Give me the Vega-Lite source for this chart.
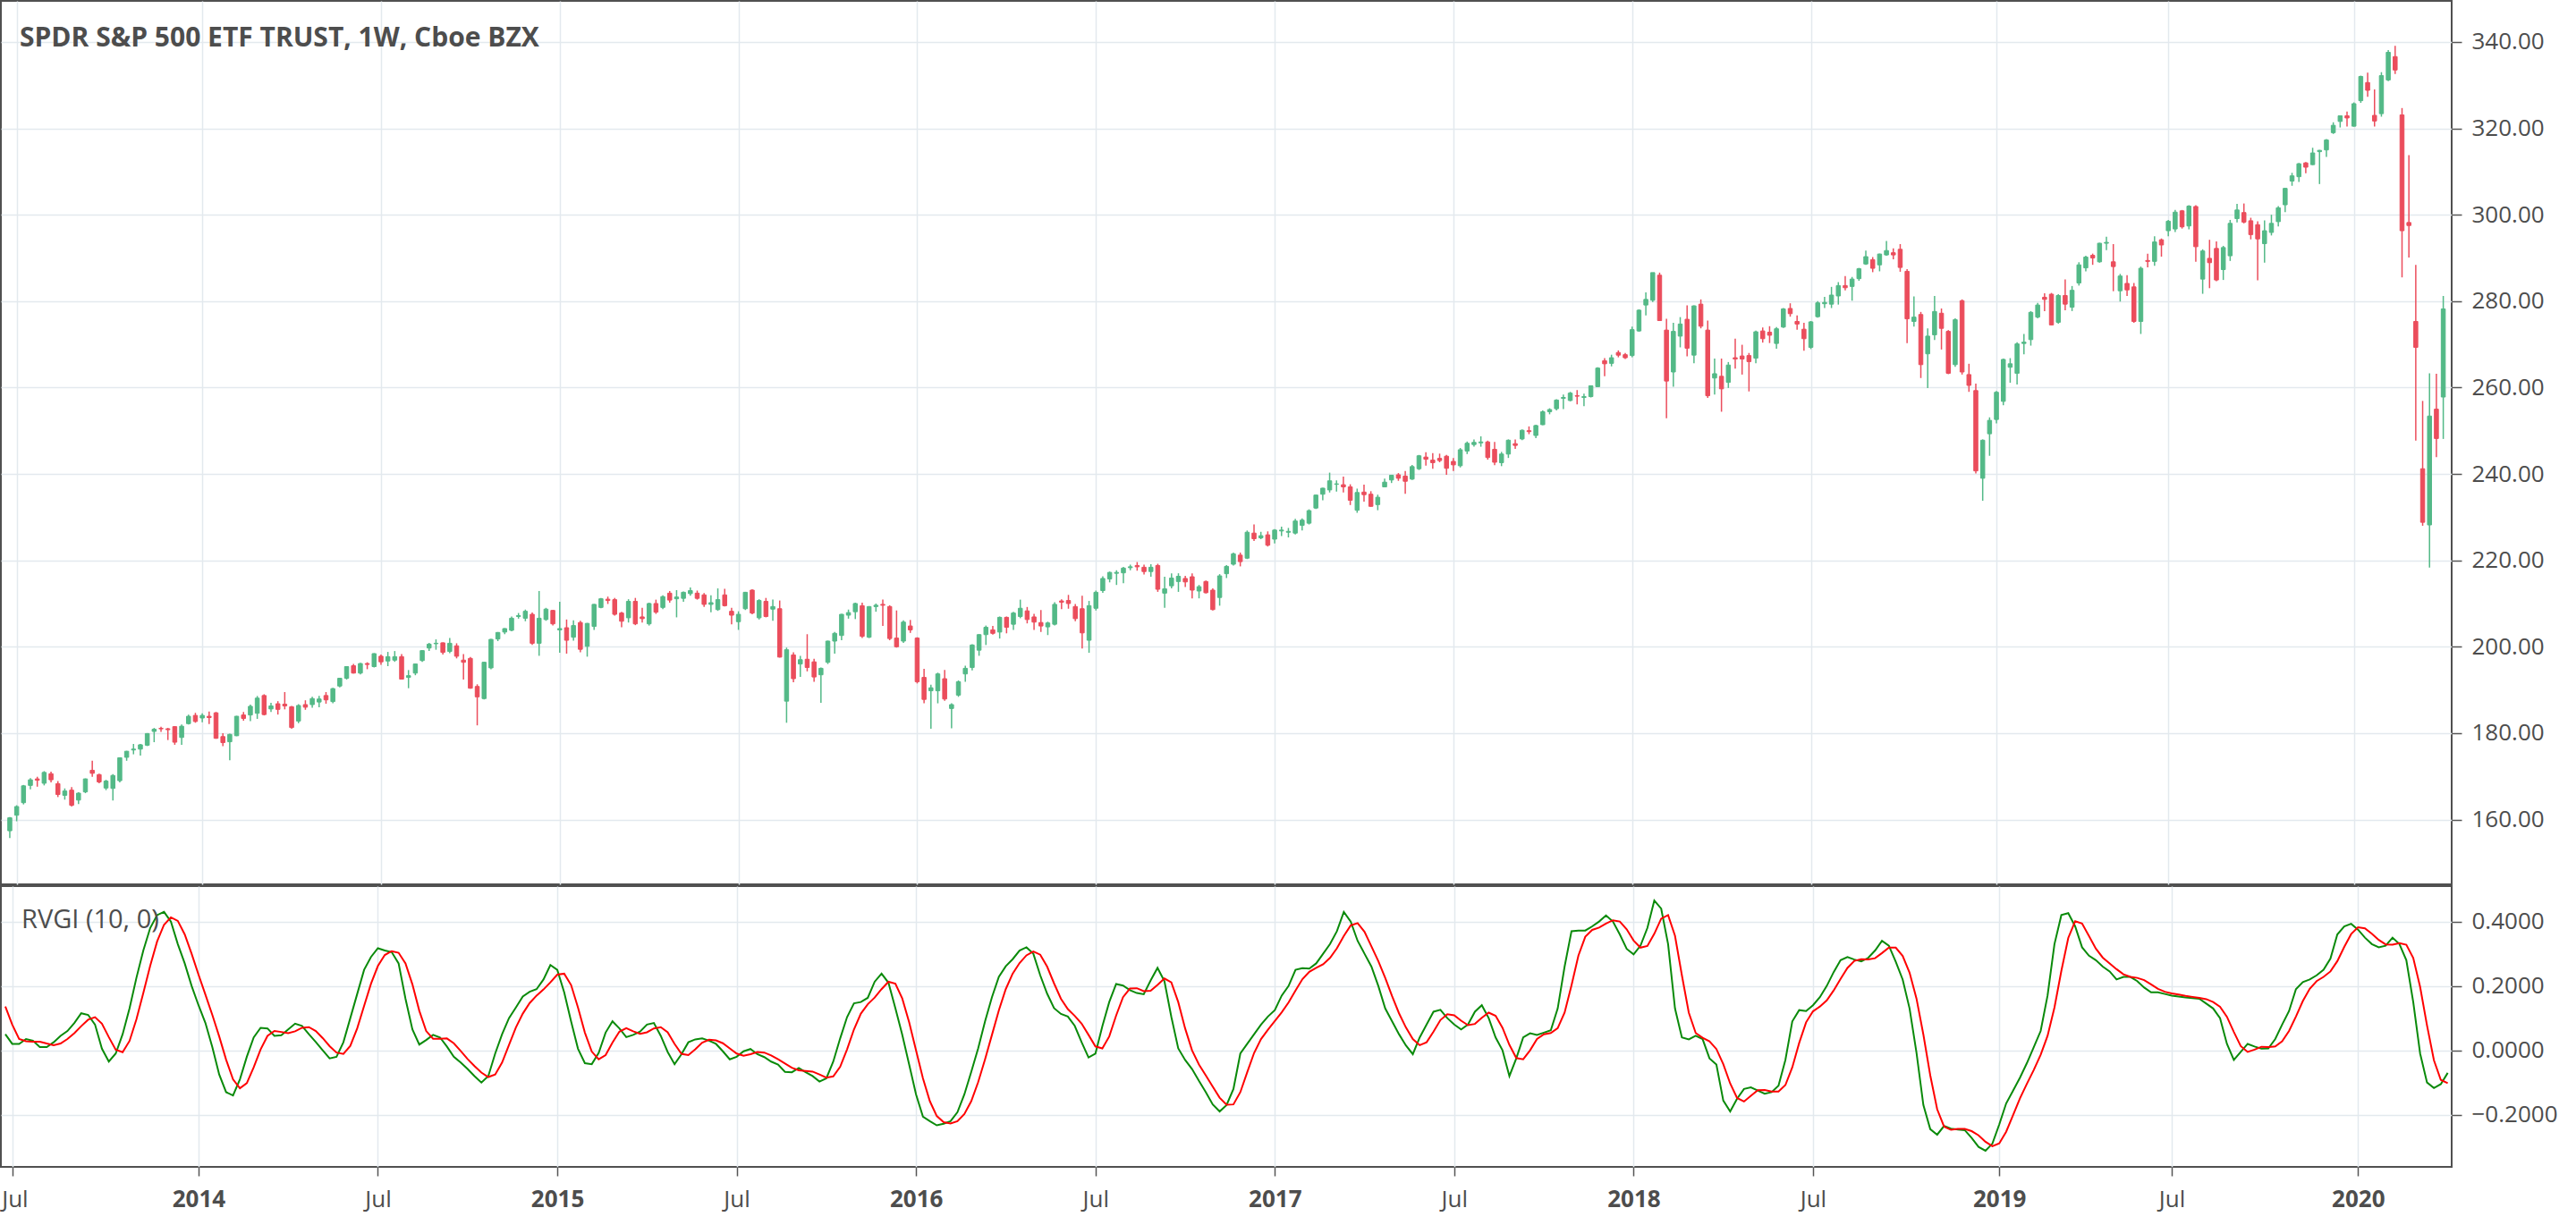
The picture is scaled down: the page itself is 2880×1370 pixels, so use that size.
{
"$schema": "https://vega.github.io/schema/vega-lite/v6.json",
"padding": {"left": 0, "top": 0, "right": 0, "bottom": 14},
"spacing": 0,
"background": "#ffffff",
"config": {
  "view": {"stroke": "#505050", "strokeWidth": 2},
  "font": "Open Sans",
  "axis": {"labelFont": "Open Sans", "labelFontSize": 26, "labelColor": "#4d4d4d", "gridColor": "#e3e9ee", "gridWidth": 1.5, "tickColor": "#555555", "tickWidth": 1.5, "domain": false},
  "title": {"font": "Open Sans", "color": "#4d4d4d", "anchor": "start", "frame": "group"}
},
"datasets": {"w": [
{"d":"2013-06-24","o":157.4,"h":160.6,"l":155.7,"c":160.4,"g":0.05,"r":0.136},
{"d":"2013-07-01","o":161.0,"h":163.3,"l":159.6,"c":163.0,"g":0.02,"r":0.08},
{"d":"2013-07-08","o":163.9,"h":168.0,"l":163.5,"c":167.8,"g":0.02,"r":0.035},
{"d":"2013-07-15","o":167.9,"h":169.6,"l":167.0,"c":169.2,"g":0.035,"r":0.028},
{"d":"2013-07-22","o":169.4,"h":169.9,"l":167.6,"c":169.1,"g":0.03,"r":0.027},
{"d":"2013-07-29","o":168.4,"h":171.2,"l":167.9,"c":170.9,"g":0.01,"r":0.027},
{"d":"2013-08-05","o":170.6,"h":171.1,"l":168.6,"c":169.2,"g":0.01,"r":0.021},
{"d":"2013-08-12","o":168.3,"h":168.9,"l":165.2,"c":165.8,"g":0.025,"r":0.016},
{"d":"2013-08-19","o":165.6,"h":167.2,"l":164.6,"c":166.6,"g":0.045,"r":0.021},
{"d":"2013-08-26","o":166.8,"h":167.5,"l":163.0,"c":163.3,"g":0.06,"r":0.035},
{"d":"2013-09-02","o":164.5,"h":166.3,"l":163.6,"c":166.1,"g":0.085,"r":0.053},
{"d":"2013-09-09","o":166.4,"h":169.5,"l":166.1,"c":169.4,"g":0.115,"r":0.075},
{"d":"2013-09-16","o":171.4,"h":173.6,"l":169.9,"c":170.7,"g":0.11,"r":0.095},
{"d":"2013-09-23","o":170.4,"h":170.6,"l":168.4,"c":168.7,"g":0.08,"r":0.103},
{"d":"2013-09-30","o":167.3,"h":169.2,"l":166.8,"c":168.9,"g":0.005,"r":0.083},
{"d":"2013-10-07","o":167.2,"h":170.5,"l":164.4,"c":170.2,"g":-0.035,"r":0.041},
{"d":"2013-10-14","o":169.0,"h":174.4,"l":168.6,"c":174.3,"g":-0.01,"r":0.002},
{"d":"2013-10-21","o":174.4,"h":175.9,"l":173.6,"c":175.8,"g":0.05,"r":-0.006},
{"d":"2013-10-28","o":176.1,"h":177.5,"l":175.1,"c":176.3,"g":0.13,"r":0.029},
{"d":"2013-11-04","o":176.3,"h":177.5,"l":174.8,"c":177.3,"g":0.225,"r":0.096},
{"d":"2013-11-11","o":177.2,"h":180.0,"l":177.0,"c":179.9,"g":0.31,"r":0.178},
{"d":"2013-11-18","o":180.4,"h":181.2,"l":177.9,"c":180.9,"g":0.38,"r":0.263},
{"d":"2013-11-25","o":181.1,"h":181.5,"l":180.3,"c":181.0,"g":0.42,"r":0.338},
{"d":"2013-12-02","o":181.0,"h":181.2,"l":178.4,"c":180.8,"g":0.43,"r":0.39},
{"d":"2013-12-09","o":181.5,"h":181.6,"l":177.3,"c":177.9,"g":0.40,"r":0.413},
{"d":"2013-12-16","o":179.0,"h":182.0,"l":177.3,"c":181.6,"g":0.33,"r":0.402},
{"d":"2013-12-23","o":182.2,"h":184.3,"l":182.0,"c":183.9,"g":0.27,"r":0.36},
{"d":"2013-12-30","o":184.1,"h":184.7,"l":182.4,"c":182.7,"g":0.20,"r":0.30},
{"d":"2014-01-06","o":183.5,"h":184.6,"l":182.5,"c":184.1,"g":0.14,"r":0.235},
{"d":"2014-01-13","o":183.9,"h":185.0,"l":182.1,"c":183.6,"g":0.085,"r":0.173},
{"d":"2014-01-20","o":184.7,"h":184.9,"l":178.7,"c":178.8,"g":0.01,"r":0.11},
{"d":"2014-01-27","o":179.2,"h":180.0,"l":177.0,"c":177.8,"g":-0.075,"r":0.043},
{"d":"2014-02-03","o":178.0,"h":179.9,"l":173.7,"c":179.7,"g":-0.13,"r":-0.029},
{"d":"2014-02-10","o":179.4,"h":184.0,"l":179.3,"c":183.9,"g":-0.14,"r":-0.09},
{"d":"2014-02-17","o":184.2,"h":184.9,"l":182.9,"c":183.4,"g":-0.09,"r":-0.118},
{"d":"2014-02-24","o":184.2,"h":186.6,"l":182.8,"c":186.2,"g":-0.02,"r":-0.102},
{"d":"2014-03-03","o":184.6,"h":188.6,"l":183.3,"c":188.1,"g":0.04,"r":-0.053},
{"d":"2014-03-10","o":188.7,"h":189.0,"l":184.1,"c":184.3,"g":0.07,"r":0.003},
{"d":"2014-03-17","o":185.6,"h":187.0,"l":184.9,"c":186.3,"g":0.068,"r":0.045},
{"d":"2014-03-24","o":186.8,"h":187.4,"l":184.3,"c":185.5,"g":0.045,"r":0.06},
{"d":"2014-03-31","o":186.7,"h":189.5,"l":185.5,"c":186.3,"g":0.047,"r":0.057},
{"d":"2014-04-07","o":186.1,"h":186.3,"l":181.0,"c":181.3,"g":0.065,"r":0.053},
{"d":"2014-04-14","o":182.8,"h":186.7,"l":182.3,"c":186.4,"g":0.083,"r":0.059},
{"d":"2014-04-21","o":186.6,"h":187.6,"l":185.4,"c":186.0,"g":0.076,"r":0.07},
{"d":"2014-04-28","o":186.6,"h":188.4,"l":185.9,"c":188.0,"g":0.05,"r":0.072},
{"d":"2014-05-05","o":187.2,"h":188.6,"l":186.0,"c":187.9,"g":0.026,"r":0.06},
{"d":"2014-05-12","o":188.7,"h":189.5,"l":186.8,"c":187.7,"g":0.0,"r":0.038},
{"d":"2014-05-19","o":187.3,"h":190.5,"l":186.9,"c":190.3,"g":-0.025,"r":0.013},
{"d":"2014-05-26","o":190.9,"h":192.8,"l":190.6,"c":192.7,"g":-0.02,"r":-0.007},
{"d":"2014-06-02","o":192.7,"h":195.5,"l":192.4,"c":195.4,"g":0.025,"r":-0.011},
{"d":"2014-06-09","o":195.6,"h":196.0,"l":193.8,"c":193.9,"g":0.10,"r":0.014},
{"d":"2014-06-16","o":193.9,"h":196.3,"l":193.6,"c":196.1,"g":0.175,"r":0.068},
{"d":"2014-06-23","o":196.1,"h":196.4,"l":194.8,"c":195.9,"g":0.25,"r":0.138},
{"d":"2014-06-30","o":195.4,"h":198.5,"l":195.2,"c":198.4,"g":0.29,"r":0.207},
{"d":"2014-07-07","o":197.8,"h":198.2,"l":195.8,"c":196.5,"g":0.317,"r":0.262},
{"d":"2014-07-14","o":196.7,"h":198.8,"l":195.5,"c":197.7,"g":0.31,"r":0.296},
{"d":"2014-07-21","o":196.9,"h":199.0,"l":196.5,"c":197.7,"g":0.305,"r":0.308},
{"d":"2014-07-28","o":197.7,"h":198.3,"l":192.4,"c":192.5,"g":0.27,"r":0.303},
{"d":"2014-08-04","o":192.9,"h":194.6,"l":190.4,"c":193.3,"g":0.16,"r":0.27},
{"d":"2014-08-11","o":193.9,"h":196.1,"l":193.4,"c":196.0,"g":0.065,"r":0.205},
{"d":"2014-08-18","o":196.8,"h":199.2,"l":196.5,"c":199.1,"g":0.018,"r":0.123},
{"d":"2014-08-25","o":199.7,"h":200.9,"l":199.0,"c":200.6,"g":0.032,"r":0.06},
{"d":"2014-09-01","o":200.7,"h":201.7,"l":199.3,"c":200.8,"g":0.048,"r":0.036},
{"d":"2014-09-08","o":200.9,"h":201.0,"l":198.2,"c":198.7,"g":0.04,"r":0.036},
{"d":"2014-09-15","o":198.9,"h":202.0,"l":198.5,"c":200.8,"g":0.012,"r":0.037},
{"d":"2014-09-22","o":200.2,"h":200.8,"l":197.3,"c":197.8,"g":-0.02,"r":0.022},
{"d":"2014-09-29","o":196.9,"h":198.3,"l":192.4,"c":196.4,"g":-0.038,"r":-0.002},
{"d":"2014-10-06","o":197.3,"h":197.6,"l":190.3,"c":190.4,"g":-0.058,"r":-0.027},
{"d":"2014-10-13","o":190.8,"h":191.3,"l":181.8,"c":188.4,"g":-0.08,"r":-0.049},
{"d":"2014-10-20","o":188.0,"h":196.5,"l":187.8,"c":196.4,"g":-0.10,"r":-0.069},
{"d":"2014-10-27","o":195.1,"h":201.8,"l":194.8,"c":201.7,"g":-0.08,"r":-0.083},
{"d":"2014-11-03","o":201.8,"h":203.4,"l":201.3,"c":203.3,"g":-0.01,"r":-0.075},
{"d":"2014-11-10","o":203.4,"h":204.3,"l":202.9,"c":204.2,"g":0.05,"r":-0.038},
{"d":"2014-11-17","o":203.8,"h":207.0,"l":203.6,"c":206.6,"g":0.10,"r":0.017},
{"d":"2014-11-24","o":207.0,"h":207.8,"l":206.5,"c":207.2,"g":0.133,"r":0.071},
{"d":"2014-12-01","o":206.6,"h":208.6,"l":205.9,"c":208.2,"g":0.167,"r":0.114},
{"d":"2014-12-08","o":207.5,"h":207.9,"l":200.4,"c":200.8,"g":0.182,"r":0.147},
{"d":"2014-12-15","o":200.8,"h":212.9,"l":197.9,"c":206.6,"g":0.19,"r":0.17},
{"d":"2014-12-22","o":206.3,"h":209.0,"l":206.0,"c":208.7,"g":0.22,"r":0.189},
{"d":"2014-12-29","o":208.4,"h":208.5,"l":204.9,"c":205.3,"g":0.265,"r":0.211},
{"d":"2015-01-05","o":203.9,"h":210.4,"l":198.6,"c":204.2,"g":0.25,"r":0.235},
{"d":"2015-01-12","o":204.4,"h":206.3,"l":198.4,"c":201.5,"g":0.18,"r":0.238},
{"d":"2015-01-19","o":202.2,"h":206.1,"l":201.4,"c":204.9,"g":0.09,"r":0.203},
{"d":"2015-01-26","o":205.6,"h":206.0,"l":198.7,"c":199.4,"g":0.005,"r":0.133},
{"d":"2015-02-02","o":200.1,"h":205.5,"l":197.7,"c":205.4,"g":-0.04,"r":0.055},
{"d":"2015-02-09","o":204.7,"h":209.9,"l":203.9,"c":209.8,"g":-0.043,"r":-0.004},
{"d":"2015-02-16","o":209.1,"h":211.3,"l":208.9,"c":211.1,"g":-0.008,"r":-0.028},
{"d":"2015-02-23","o":211.0,"h":211.6,"l":209.9,"c":210.7,"g":0.055,"r":-0.015},
{"d":"2015-03-02","o":210.9,"h":211.3,"l":207.2,"c":207.5,"g":0.09,"r":0.024},
{"d":"2015-03-09","o":207.8,"h":208.1,"l":204.5,"c":205.9,"g":0.068,"r":0.058},
{"d":"2015-03-16","o":206.7,"h":211.0,"l":205.6,"c":210.5,"g":0.041,"r":0.069},
{"d":"2015-03-23","o":210.5,"h":211.3,"l":205.0,"c":205.3,"g":0.048,"r":0.059},
{"d":"2015-03-30","o":206.9,"h":209.0,"l":205.6,"c":206.5,"g":0.058,"r":0.051},
{"d":"2015-04-06","o":205.3,"h":210.2,"l":204.9,"c":210.0,"g":0.08,"r":0.056},
{"d":"2015-04-13","o":210.0,"h":210.9,"l":207.6,"c":208.0,"g":0.085,"r":0.068},
{"d":"2015-04-20","o":209.1,"h":211.9,"l":208.7,"c":211.6,"g":0.045,"r":0.072},
{"d":"2015-04-27","o":212.4,"h":212.9,"l":210.2,"c":210.8,"g":-0.005,"r":0.056},
{"d":"2015-05-04","o":211.1,"h":213.1,"l":206.8,"c":211.5,"g":-0.043,"r":0.02},
{"d":"2015-05-11","o":211.2,"h":212.8,"l":210.4,"c":212.6,"g":-0.012,"r":-0.011},
{"d":"2015-05-18","o":212.3,"h":213.7,"l":211.8,"c":213.0,"g":0.025,"r":-0.015},
{"d":"2015-05-25","o":212.4,"h":213.0,"l":210.9,"c":211.2,"g":0.034,"r":0.003},
{"d":"2015-06-01","o":212.0,"h":212.4,"l":209.2,"c":209.8,"g":0.037,"r":0.024},
{"d":"2015-06-08","o":209.8,"h":211.9,"l":208.0,"c":210.2,"g":0.03,"r":0.033},
{"d":"2015-06-15","o":208.6,"h":213.5,"l":208.3,"c":210.9,"g":0.02,"r":0.031},
{"d":"2015-06-22","o":212.0,"h":213.4,"l":209.3,"c":209.5,"g":-0.003,"r":0.022},
{"d":"2015-06-29","o":208.2,"h":209.0,"l":205.2,"c":207.3,"g":-0.028,"r":0.006},
{"d":"2015-07-06","o":205.8,"h":208.2,"l":203.9,"c":207.5,"g":-0.02,"r":-0.01},
{"d":"2015-07-13","o":208.8,"h":212.7,"l":208.5,"c":212.6,"g":-0.003,"r":-0.017},
{"d":"2015-07-20","o":213.1,"h":213.3,"l":207.5,"c":207.8,"g":0.004,"r":-0.012},
{"d":"2015-07-27","o":206.7,"h":211.0,"l":206.3,"c":210.7,"g":-0.012,"r":-0.005},
{"d":"2015-08-03","o":210.5,"h":211.3,"l":206.8,"c":207.0,"g":-0.021,"r":-0.007},
{"d":"2015-08-10","o":208.7,"h":210.9,"l":206.0,"c":209.3,"g":-0.035,"r":-0.016},
{"d":"2015-08-17","o":208.8,"h":210.7,"l":197.5,"c":197.6,"g":-0.044,"r":-0.028},
{"d":"2015-08-24","o":187.4,"h":199.8,"l":182.4,"c":199.3,"g":-0.067,"r":-0.041},
{"d":"2015-08-31","o":198.1,"h":198.7,"l":191.8,"c":192.6,"g":-0.068,"r":-0.054},
{"d":"2015-09-07","o":196.0,"h":197.9,"l":193.0,"c":197.0,"g":-0.055,"r":-0.062},
{"d":"2015-09-14","o":197.1,"h":202.9,"l":194.3,"c":195.2,"g":-0.068,"r":-0.064},
{"d":"2015-09-21","o":196.5,"h":197.2,"l":191.9,"c":193.0,"g":-0.08,"r":-0.066},
{"d":"2015-09-28","o":193.5,"h":195.2,"l":187.0,"c":195.0,"g":-0.097,"r":-0.075},
{"d":"2015-10-05","o":196.4,"h":201.4,"l":196.0,"c":201.3,"g":-0.087,"r":-0.085},
{"d":"2015-10-12","o":201.3,"h":203.4,"l":198.4,"c":203.1,"g":-0.035,"r":-0.081},
{"d":"2015-10-19","o":202.6,"h":207.6,"l":201.5,"c":207.5,"g":0.037,"r":-0.051},
{"d":"2015-10-26","o":207.3,"h":208.6,"l":206.5,"c":207.9,"g":0.103,"r":0.003},
{"d":"2015-11-02","o":208.1,"h":210.2,"l":206.4,"c":210.0,"g":0.146,"r":0.065},
{"d":"2015-11-09","o":209.5,"h":210.2,"l":202.0,"c":202.4,"g":0.15,"r":0.114},
{"d":"2015-11-16","o":202.2,"h":209.4,"l":202.0,"c":209.3,"g":0.163,"r":0.143},
{"d":"2015-11-23","o":209.3,"h":210.0,"l":208.1,"c":209.6,"g":0.213,"r":0.164},
{"d":"2015-11-30","o":209.8,"h":210.9,"l":204.8,"c":209.6,"g":0.238,"r":0.19},
{"d":"2015-12-07","o":209.3,"h":209.6,"l":201.5,"c":201.9,"g":0.21,"r":0.213},
{"d":"2015-12-14","o":202.0,"h":208.4,"l":199.8,"c":200.0,"g":0.131,"r":0.207},
{"d":"2015-12-21","o":201.3,"h":206.1,"l":200.9,"c":205.7,"g":0.048,"r":0.161},
{"d":"2015-12-28","o":204.8,"h":206.2,"l":203.2,"c":203.9,"g":-0.044,"r":0.087},
{"d":"2016-01-04","o":202.0,"h":202.2,"l":191.5,"c":191.9,"g":-0.137,"r":0.0},
{"d":"2016-01-11","o":192.9,"h":194.9,"l":186.9,"c":187.8,"g":-0.206,"r":-0.087},
{"d":"2016-01-18","o":189.8,"h":191.2,"l":181.0,"c":190.5,"g":-0.22,"r":-0.158},
{"d":"2016-01-25","o":189.8,"h":194.0,"l":186.9,"c":193.7,"g":-0.233,"r":-0.204},
{"d":"2016-02-01","o":192.6,"h":194.6,"l":187.5,"c":187.9,"g":-0.228,"r":-0.223},
{"d":"2016-02-08","o":185.7,"h":186.9,"l":181.1,"c":186.6,"g":-0.22,"r":-0.227},
{"d":"2016-02-15","o":188.8,"h":192.2,"l":188.4,"c":191.9,"g":-0.192,"r":-0.22},
{"d":"2016-02-22","o":193.7,"h":195.6,"l":191.9,"c":195.0,"g":-0.137,"r":-0.198},
{"d":"2016-02-29","o":195.2,"h":200.6,"l":194.5,"c":200.4,"g":-0.067,"r":-0.158},
{"d":"2016-03-07","o":199.2,"h":202.9,"l":197.9,"c":202.8,"g":0.006,"r":-0.099},
{"d":"2016-03-14","o":202.8,"h":204.9,"l":200.4,"c":204.5,"g":0.09,"r":-0.028},
{"d":"2016-03-21","o":203.9,"h":204.8,"l":202.8,"c":203.1,"g":0.165,"r":0.048},
{"d":"2016-03-28","o":203.4,"h":207.0,"l":201.9,"c":206.8,"g":0.228,"r":0.124},
{"d":"2016-04-04","o":206.8,"h":207.0,"l":203.1,"c":204.5,"g":0.261,"r":0.19},
{"d":"2016-04-11","o":205.2,"h":208.1,"l":203.9,"c":207.8,"g":0.283,"r":0.238},
{"d":"2016-04-18","o":207.0,"h":210.9,"l":206.6,"c":208.9,"g":0.31,"r":0.271},
{"d":"2016-04-25","o":208.3,"h":209.2,"l":205.4,"c":206.3,"g":0.32,"r":0.295},
{"d":"2016-05-02","o":206.9,"h":207.6,"l":203.9,"c":205.7,"g":0.30,"r":0.307},
{"d":"2016-05-09","o":205.6,"h":208.5,"l":203.4,"c":204.8,"g":0.233,"r":0.297},
{"d":"2016-05-16","o":204.6,"h":205.8,"l":202.7,"c":205.5,"g":0.176,"r":0.26},
{"d":"2016-05-23","o":205.2,"h":210.3,"l":204.9,"c":209.8,"g":0.131,"r":0.208},
{"d":"2016-05-30","o":210.6,"h":211.0,"l":208.7,"c":210.3,"g":0.113,"r":0.16},
{"d":"2016-06-06","o":210.7,"h":212.0,"l":208.8,"c":210.0,"g":0.105,"r":0.128},
{"d":"2016-06-13","o":209.3,"h":209.9,"l":205.9,"c":206.5,"g":0.076,"r":0.107},
{"d":"2016-06-20","o":208.8,"h":211.8,"l":199.6,"c":203.2,"g":0.025,"r":0.083},
{"d":"2016-06-27","o":201.5,"h":210.6,"l":198.6,"c":209.5,"g":-0.022,"r":0.048},
{"d":"2016-07-04","o":208.9,"h":213.0,"l":208.4,"c":212.6,"g":-0.01,"r":0.012},
{"d":"2016-07-11","o":213.0,"h":216.3,"l":212.5,"c":215.8,"g":0.075,"r":0.006},
{"d":"2016-07-18","o":215.7,"h":217.4,"l":214.9,"c":217.2,"g":0.15,"r":0.043},
{"d":"2016-07-25","o":217.0,"h":217.7,"l":214.3,"c":217.2,"g":0.206,"r":0.108},
{"d":"2016-08-01","o":217.1,"h":218.5,"l":214.7,"c":218.2,"g":0.201,"r":0.165},
{"d":"2016-08-08","o":218.3,"h":219.0,"l":217.7,"c":218.5,"g":0.187,"r":0.192},
{"d":"2016-08-15","o":218.8,"h":219.6,"l":217.6,"c":218.5,"g":0.178,"r":0.193},
{"d":"2016-08-22","o":218.4,"h":219.0,"l":216.7,"c":217.4,"g":0.174,"r":0.184},
{"d":"2016-08-29","o":217.4,"h":219.1,"l":216.2,"c":218.4,"g":0.217,"r":0.185},
{"d":"2016-09-05","o":218.8,"h":219.2,"l":212.7,"c":213.3,"g":0.256,"r":0.203},
{"d":"2016-09-12","o":212.4,"h":216.2,"l":209.0,"c":213.4,"g":0.215,"r":0.223},
{"d":"2016-09-19","o":214.1,"h":217.0,"l":213.5,"c":215.9,"g":0.104,"r":0.211},
{"d":"2016-09-26","o":215.1,"h":217.0,"l":212.7,"c":216.3,"g":0.006,"r":0.15},
{"d":"2016-10-03","o":215.8,"h":216.4,"l":213.8,"c":215.0,"g":-0.03,"r":0.068},
{"d":"2016-10-10","o":216.2,"h":217.0,"l":211.2,"c":213.1,"g":-0.058,"r":0.0},
{"d":"2016-10-17","o":212.9,"h":214.3,"l":211.2,"c":213.9,"g":-0.095,"r":-0.044},
{"d":"2016-10-24","o":215.1,"h":215.3,"l":212.3,"c":212.5,"g":-0.13,"r":-0.078},
{"d":"2016-10-31","o":213.1,"h":213.5,"l":208.4,"c":208.6,"g":-0.168,"r":-0.113},
{"d":"2016-11-07","o":211.4,"h":216.8,"l":209.5,"c":216.4,"g":-0.19,"r":-0.147},
{"d":"2016-11-14","o":216.9,"h":218.9,"l":215.9,"c":218.6,"g":-0.17,"r":-0.169},
{"d":"2016-11-21","o":219.1,"h":221.8,"l":218.8,"c":221.5,"g":-0.12,"r":-0.168},
{"d":"2016-11-28","o":221.2,"h":221.8,"l":218.6,"c":219.7,"g":-0.01,"r":-0.13},
{"d":"2016-12-05","o":220.5,"h":226.9,"l":220.3,"c":226.5,"g":0.02,"r":-0.068},
{"d":"2016-12-12","o":226.3,"h":228.3,"l":224.5,"c":225.0,"g":0.05,"r":-0.008},
{"d":"2016-12-19","o":225.2,"h":226.6,"l":224.9,"c":225.7,"g":0.08,"r":0.035},
{"d":"2016-12-26","o":225.9,"h":226.7,"l":223.2,"c":223.5,"g":0.105,"r":0.064},
{"d":"2017-01-02","o":224.9,"h":227.2,"l":223.9,"c":227.0,"g":0.125,"r":0.091},
{"d":"2017-01-09","o":226.8,"h":227.8,"l":225.6,"c":227.0,"g":0.17,"r":0.118},
{"d":"2017-01-16","o":226.5,"h":227.5,"l":225.3,"c":226.7,"g":0.20,"r":0.149},
{"d":"2017-01-23","o":226.3,"h":229.6,"l":226.0,"c":229.1,"g":0.25,"r":0.186},
{"d":"2017-01-30","o":228.1,"h":229.7,"l":226.9,"c":229.3,"g":0.255,"r":0.221},
{"d":"2017-02-06","o":228.6,"h":231.8,"l":228.3,"c":231.5,"g":0.254,"r":0.244},
{"d":"2017-02-13","o":232.1,"h":235.2,"l":231.9,"c":235.1,"g":0.27,"r":0.256},
{"d":"2017-02-20","o":235.3,"h":236.8,"l":233.9,"c":236.7,"g":0.30,"r":0.267},
{"d":"2017-02-27","o":236.3,"h":240.3,"l":235.7,"c":238.4,"g":0.33,"r":0.287},
{"d":"2017-03-06","o":237.6,"h":238.5,"l":235.9,"c":237.7,"g":0.37,"r":0.317},
{"d":"2017-03-13","o":237.5,"h":239.4,"l":235.7,"c":237.0,"g":0.43,"r":0.355},
{"d":"2017-03-20","o":237.0,"h":237.6,"l":232.8,"c":233.9,"g":0.40,"r":0.388},
{"d":"2017-03-27","o":231.6,"h":236.6,"l":231.0,"c":235.7,"g":0.34,"r":0.395},
{"d":"2017-04-03","o":235.8,"h":237.5,"l":233.6,"c":235.2,"g":0.30,"r":0.368},
{"d":"2017-04-10","o":235.3,"h":236.0,"l":232.4,"c":232.5,"g":0.26,"r":0.323},
{"d":"2017-04-17","o":232.9,"h":235.2,"l":231.6,"c":234.6,"g":0.20,"r":0.277},
{"d":"2017-04-24","o":237.0,"h":238.9,"l":236.9,"c":238.1,"g":0.13,"r":0.225},
{"d":"2017-05-01","o":238.6,"h":239.7,"l":237.9,"c":239.7,"g":0.09,"r":0.168},
{"d":"2017-05-08","o":239.8,"h":240.2,"l":238.4,"c":239.0,"g":0.05,"r":0.115},
{"d":"2017-05-15","o":239.5,"h":240.7,"l":235.4,"c":238.3,"g":0.015,"r":0.071},
{"d":"2017-05-22","o":238.8,"h":242.1,"l":238.6,"c":241.7,"g":-0.012,"r":0.035},
{"d":"2017-05-29","o":241.2,"h":244.4,"l":240.9,"c":244.2,"g":0.04,"r":0.016},
{"d":"2017-06-05","o":243.9,"h":245.0,"l":241.9,"c":243.4,"g":0.08,"r":0.025},
{"d":"2017-06-12","o":243.2,"h":244.8,"l":241.2,"c":242.6,"g":0.12,"r":0.058},
{"d":"2017-06-19","o":243.6,"h":244.7,"l":242.7,"c":243.1,"g":0.126,"r":0.094},
{"d":"2017-06-26","o":244.1,"h":244.4,"l":239.8,"c":241.3,"g":0.10,"r":0.112},
{"d":"2017-07-03","o":242.9,"h":243.7,"l":240.7,"c":242.1,"g":0.08,"r":0.109},
{"d":"2017-07-10","o":241.9,"h":246.0,"l":241.5,"c":245.6,"g":0.065,"r":0.092},
{"d":"2017-07-17","o":245.3,"h":247.5,"l":244.6,"c":247.1,"g":0.08,"r":0.078},
{"d":"2017-07-24","o":246.8,"h":248.0,"l":246.3,"c":247.3,"g":0.12,"r":0.082},
{"d":"2017-07-31","o":247.2,"h":248.7,"l":246.3,"c":247.4,"g":0.14,"r":0.101},
{"d":"2017-08-07","o":247.4,"h":247.7,"l":243.3,"c":243.8,"g":0.10,"r":0.117},
{"d":"2017-08-14","o":245.7,"h":247.4,"l":242.0,"c":242.7,"g":0.04,"r":0.107},
{"d":"2017-08-21","o":242.6,"h":245.1,"l":241.8,"c":244.6,"g":0.0,"r":0.07},
{"d":"2017-08-28","o":244.6,"h":248.0,"l":243.7,"c":247.8,"g":-0.08,"r":0.017},
{"d":"2017-09-04","o":247.0,"h":248.0,"l":245.8,"c":246.6,"g":-0.025,"r":-0.024},
{"d":"2017-09-11","o":248.1,"h":250.3,"l":247.8,"c":250.1,"g":0.04,"r":-0.028},
{"d":"2017-09-18","o":250.0,"h":251.0,"l":249.2,"c":249.8,"g":0.053,"r":0.0},
{"d":"2017-09-25","o":248.9,"h":251.4,"l":248.3,"c":251.2,"g":0.048,"r":0.035},
{"d":"2017-10-02","o":251.4,"h":254.7,"l":251.3,"c":254.4,"g":0.055,"r":0.05},
{"d":"2017-10-09","o":254.4,"h":255.2,"l":253.8,"c":254.9,"g":0.062,"r":0.054},
{"d":"2017-10-16","o":255.1,"h":257.3,"l":254.7,"c":257.1,"g":0.13,"r":0.069},
{"d":"2017-10-23","o":257.5,"h":258.4,"l":255.0,"c":257.7,"g":0.26,"r":0.117},
{"d":"2017-10-30","o":257.0,"h":259.0,"l":256.8,"c":258.7,"g":0.37,"r":0.202},
{"d":"2017-11-06","o":258.1,"h":259.4,"l":256.1,"c":258.0,"g":0.372,"r":0.294},
{"d":"2017-11-13","o":257.7,"h":258.6,"l":255.7,"c":257.9,"g":0.372,"r":0.353},
{"d":"2017-11-20","o":257.9,"h":260.5,"l":257.7,"c":260.4,"g":0.385,"r":0.374},
{"d":"2017-11-27","o":260.2,"h":264.7,"l":260.1,"c":264.5,"g":0.40,"r":0.381},
{"d":"2017-12-04","o":266.2,"h":266.8,"l":262.6,"c":265.5,"g":0.419,"r":0.394},
{"d":"2017-12-11","o":265.6,"h":267.6,"l":264.9,"c":266.9,"g":0.40,"r":0.404},
{"d":"2017-12-18","o":268.1,"h":268.6,"l":267.0,"c":267.5,"g":0.36,"r":0.40},
{"d":"2017-12-25","o":267.6,"h":268.0,"l":266.6,"c":266.9,"g":0.315,"r":0.376},
{"d":"2018-01-01","o":267.4,"h":274.1,"l":267.0,"c":273.4,"g":0.298,"r":0.341},
{"d":"2018-01-08","o":273.1,"h":278.1,"l":272.9,"c":277.9,"g":0.325,"r":0.319},
{"d":"2018-01-15","o":279.1,"h":282.0,"l":276.7,"c":280.4,"g":0.38,"r":0.324},
{"d":"2018-01-22","o":280.2,"h":286.6,"l":279.8,"c":286.6,"g":0.465,"r":0.362},
{"d":"2018-01-29","o":286.0,"h":286.6,"l":275.4,"c":275.5,"g":0.44,"r":0.409},
{"d":"2018-02-05","o":273.3,"h":275.9,"l":252.9,"c":261.5,"g":0.33,"r":0.42},
{"d":"2018-02-12","o":263.6,"h":275.0,"l":260.2,"c":273.0,"g":0.13,"r":0.356},
{"d":"2018-02-19","o":271.9,"h":276.3,"l":269.3,"c":274.7,"g":0.04,"r":0.233},
{"d":"2018-02-26","o":275.8,"h":279.0,"l":267.2,"c":269.1,"g":0.034,"r":0.117},
{"d":"2018-03-05","o":267.5,"h":279.0,"l":265.6,"c":278.9,"g":0.045,"r":0.054},
{"d":"2018-03-12","o":279.3,"h":280.4,"l":273.7,"c":274.2,"g":0.035,"r":0.039},
{"d":"2018-03-19","o":273.3,"h":275.5,"l":257.6,"c":258.1,"g":-0.025,"r":0.028},
{"d":"2018-03-26","o":262.2,"h":266.7,"l":258.4,"c":263.2,"g":-0.044,"r":0.004},
{"d":"2018-04-02","o":262.6,"h":266.7,"l":254.4,"c":259.7,"g":-0.156,"r":-0.043},
{"d":"2018-04-09","o":261.2,"h":265.9,"l":259.9,"c":265.2,"g":-0.19,"r":-0.103},
{"d":"2018-04-16","o":266.9,"h":271.3,"l":264.4,"c":266.6,"g":-0.15,"r":-0.148},
{"d":"2018-04-23","o":267.3,"h":269.9,"l":263.0,"c":266.6,"g":-0.12,"r":-0.159},
{"d":"2018-04-30","o":267.4,"h":268.0,"l":259.1,"c":266.0,"g":-0.115,"r":-0.141},
{"d":"2018-05-07","o":266.8,"h":273.2,"l":265.6,"c":272.9,"g":-0.125,"r":-0.124},
{"d":"2018-05-14","o":273.1,"h":273.9,"l":270.4,"c":271.3,"g":-0.135,"r":-0.123},
{"d":"2018-05-21","o":272.8,"h":274.2,"l":270.3,"c":272.1,"g":-0.13,"r":-0.128},
{"d":"2018-05-28","o":270.2,"h":274.0,"l":269.0,"c":273.6,"g":-0.11,"r":-0.128},
{"d":"2018-06-04","o":274.0,"h":278.4,"l":273.8,"c":278.2,"g":-0.03,"r":-0.108},
{"d":"2018-06-11","o":278.3,"h":279.5,"l":276.4,"c":277.1,"g":0.09,"r":-0.053},
{"d":"2018-06-18","o":275.3,"h":276.7,"l":273.4,"c":274.7,"g":0.125,"r":0.023},
{"d":"2018-06-25","o":273.5,"h":275.0,"l":268.5,"c":271.3,"g":0.122,"r":0.087},
{"d":"2018-07-02","o":269.3,"h":275.4,"l":268.9,"c":275.2,"g":0.14,"r":0.121},
{"d":"2018-07-09","o":276.4,"h":280.0,"l":276.2,"c":279.6,"g":0.165,"r":0.136},
{"d":"2018-07-16","o":279.4,"h":281.0,"l":278.4,"c":279.7,"g":0.20,"r":0.155},
{"d":"2018-07-23","o":279.3,"h":283.3,"l":278.4,"c":281.4,"g":0.243,"r":0.186},
{"d":"2018-07-30","o":281.2,"h":284.4,"l":279.2,"c":283.6,"g":0.28,"r":0.222},
{"d":"2018-08-06","o":283.6,"h":285.8,"l":282.5,"c":283.1,"g":0.29,"r":0.256},
{"d":"2018-08-13","o":283.4,"h":285.6,"l":280.1,"c":285.1,"g":0.282,"r":0.278},
{"d":"2018-08-20","o":285.2,"h":287.7,"l":284.7,"c":287.5,"g":0.276,"r":0.283},
{"d":"2018-08-27","o":288.6,"h":291.7,"l":288.4,"c":290.3,"g":0.287,"r":0.282},
{"d":"2018-09-03","o":289.6,"h":290.2,"l":286.7,"c":287.6,"g":0.31,"r":0.286},
{"d":"2018-09-10","o":288.4,"h":291.0,"l":286.9,"c":290.9,"g":0.34,"r":0.302},
{"d":"2018-09-17","o":290.7,"h":293.9,"l":290.5,"c":291.7,"g":0.325,"r":0.319},
{"d":"2018-09-24","o":291.2,"h":292.2,"l":289.7,"c":290.7,"g":0.275,"r":0.319},
{"d":"2018-10-01","o":292.0,"h":293.2,"l":286.8,"c":287.8,"g":0.22,"r":0.293},
{"d":"2018-10-08","o":286.9,"h":287.4,"l":270.3,"c":275.9,"g":0.13,"r":0.241},
{"d":"2018-10-15","o":275.3,"h":281.1,"l":274.1,"c":276.3,"g":-0.007,"r":0.161},
{"d":"2018-10-22","o":276.9,"h":277.5,"l":262.2,"c":265.3,"g":-0.17,"r":0.049},
{"d":"2018-10-29","o":267.8,"h":273.7,"l":259.9,"c":271.9,"g":-0.245,"r":-0.078},
{"d":"2018-11-05","o":272.2,"h":281.2,"l":271.0,"c":277.6,"g":-0.262,"r":-0.183},
{"d":"2018-11-12","o":277.2,"h":278.3,"l":268.8,"c":273.7,"g":-0.235,"r":-0.237},
{"d":"2018-11-19","o":273.0,"h":273.3,"l":263.1,"c":263.3,"g":-0.243,"r":-0.247},
{"d":"2018-11-26","o":265.3,"h":276.0,"l":264.8,"c":275.7,"g":-0.246,"r":-0.244},
{"d":"2018-12-03","o":280.1,"h":280.4,"l":263.0,"c":263.6,"g":-0.248,"r":-0.244},
{"d":"2018-12-10","o":263.0,"h":265.5,"l":259.0,"c":260.5,"g":-0.272,"r":-0.251},
{"d":"2018-12-17","o":259.3,"h":260.9,"l":240.1,"c":240.7,"g":-0.30,"r":-0.264},
{"d":"2018-12-24","o":239.0,"h":248.0,"l":233.8,"c":247.8,"g":-0.312,"r":-0.284},
{"d":"2018-12-31","o":249.3,"h":253.1,"l":244.2,"c":252.4,"g":-0.29,"r":-0.298},
{"d":"2019-01-07","o":252.6,"h":259.2,"l":251.7,"c":258.9,"g":-0.23,"r":-0.289},
{"d":"2019-01-14","o":256.8,"h":266.7,"l":255.9,"c":266.5,"g":-0.165,"r":-0.253},
{"d":"2019-01-21","o":264.7,"h":266.8,"l":261.1,"c":265.5,"g":-0.125,"r":-0.201},
{"d":"2019-01-28","o":263.3,"h":270.5,"l":260.7,"c":270.1,"g":-0.085,"r":-0.149},
{"d":"2019-02-04","o":270.2,"h":272.4,"l":267.7,"c":270.5,"g":-0.04,"r":-0.104},
{"d":"2019-02-11","o":271.1,"h":277.7,"l":269.7,"c":277.4,"g":0.01,"r":-0.061},
{"d":"2019-02-18","o":276.3,"h":279.6,"l":276.0,"c":279.1,"g":0.06,"r":-0.014},
{"d":"2019-02-25","o":280.9,"h":281.8,"l":277.7,"c":280.4,"g":0.17,"r":0.045},
{"d":"2019-03-04","o":281.6,"h":281.9,"l":274.4,"c":274.5,"g":0.33,"r":0.133},
{"d":"2019-03-11","o":275.1,"h":281.6,"l":274.8,"c":281.3,"g":0.42,"r":0.247},
{"d":"2019-03-18","o":281.3,"h":285.0,"l":277.9,"c":279.3,"g":0.426,"r":0.349},
{"d":"2019-03-25","o":278.6,"h":283.5,"l":277.7,"c":282.5,"g":0.385,"r":0.401},
{"d":"2019-04-01","o":284.2,"h":289.0,"l":283.6,"c":288.4,"g":0.32,"r":0.394},
{"d":"2019-04-08","o":287.7,"h":290.5,"l":286.9,"c":290.2,"g":0.294,"r":0.355},
{"d":"2019-04-15","o":290.6,"h":291.0,"l":288.4,"c":290.0,"g":0.28,"r":0.316},
{"d":"2019-04-22","o":289.1,"h":293.5,"l":288.9,"c":293.4,"g":0.26,"r":0.288},
{"d":"2019-04-29","o":293.4,"h":294.9,"l":291.8,"c":293.6,"g":0.245,"r":0.27},
{"d":"2019-05-06","o":289.1,"h":293.2,"l":282.3,"c":288.0,"g":0.22,"r":0.252},
{"d":"2019-05-13","o":282.4,"h":286.3,"l":279.9,"c":285.8,"g":0.228,"r":0.236},
{"d":"2019-05-20","o":284.1,"h":286.0,"l":281.2,"c":282.6,"g":0.228,"r":0.228},
{"d":"2019-05-27","o":283.3,"h":284.2,"l":275.0,"c":275.3,"g":0.215,"r":0.225},
{"d":"2019-06-03","o":275.3,"h":288.0,"l":272.4,"c":287.6,"g":0.195,"r":0.218},
{"d":"2019-06-10","o":289.4,"h":291.0,"l":287.8,"c":289.2,"g":0.18,"r":0.205},
{"d":"2019-06-17","o":289.2,"h":295.0,"l":288.2,"c":293.7,"g":0.18,"r":0.191},
{"d":"2019-06-24","o":294.2,"h":294.5,"l":290.3,"c":293.0,"g":0.175,"r":0.182},
{"d":"2019-07-01","o":296.3,"h":298.8,"l":295.0,"c":298.5,"g":0.17,"r":0.177},
{"d":"2019-07-08","o":296.7,"h":301.1,"l":296.0,"c":300.6,"g":0.167,"r":0.173},
{"d":"2019-07-15","o":300.9,"h":301.1,"l":296.8,"c":297.2,"g":0.164,"r":0.169},
{"d":"2019-07-22","o":297.4,"h":302.2,"l":296.6,"c":302.0,"g":0.162,"r":0.166},
{"d":"2019-07-29","o":301.9,"h":302.2,"l":289.1,"c":292.6,"g":0.16,"r":0.163},
{"d":"2019-08-05","o":285.1,"h":292.0,"l":281.7,"c":291.6,"g":0.145,"r":0.159},
{"d":"2019-08-12","o":289.9,"h":294.2,"l":283.0,"c":288.9,"g":0.13,"r":0.15},
{"d":"2019-08-19","o":292.2,"h":293.8,"l":284.6,"c":284.9,"g":0.10,"r":0.135},
{"d":"2019-08-26","o":287.3,"h":292.8,"l":284.9,"c":292.4,"g":0.02,"r":0.104},
{"d":"2019-09-02","o":290.5,"h":298.8,"l":289.3,"c":298.0,"g":-0.03,"r":0.057},
{"d":"2019-09-09","o":299.1,"h":302.5,"l":298.2,"c":301.1,"g":-0.005,"r":0.013},
{"d":"2019-09-16","o":300.5,"h":302.6,"l":298.0,"c":298.3,"g":0.02,"r":-0.005},
{"d":"2019-09-23","o":298.6,"h":299.3,"l":294.3,"c":295.4,"g":0.012,"r":0.002},
{"d":"2019-09-30","o":297.7,"h":298.5,"l":284.8,"c":294.4,"g":0.005,"r":0.011},
{"d":"2019-10-07","o":293.3,"h":298.7,"l":288.9,"c":296.3,"g":0.006,"r":0.01},
{"d":"2019-10-14","o":295.9,"h":300.0,"l":295.2,"c":298.0,"g":0.035,"r":0.012},
{"d":"2019-10-21","o":298.4,"h":302.0,"l":297.3,"c":301.6,"g":0.08,"r":0.028},
{"d":"2019-10-28","o":302.3,"h":306.2,"l":300.6,"c":306.1,"g":0.122,"r":0.06},
{"d":"2019-11-04","o":307.8,"h":309.7,"l":306.7,"c":309.0,"g":0.19,"r":0.105},
{"d":"2019-11-11","o":308.8,"h":312.0,"l":307.6,"c":311.8,"g":0.212,"r":0.153},
{"d":"2019-11-18","o":312.0,"h":312.2,"l":309.6,"c":311.0,"g":0.22,"r":0.191},
{"d":"2019-11-25","o":311.6,"h":315.5,"l":311.5,"c":314.3,"g":0.233,"r":0.215},
{"d":"2019-12-02","o":314.6,"h":315.0,"l":307.1,"c":314.9,"g":0.25,"r":0.228},
{"d":"2019-12-09","o":315.0,"h":317.5,"l":313.4,"c":317.3,"g":0.285,"r":0.245},
{"d":"2019-12-16","o":319.0,"h":321.4,"l":318.7,"c":320.7,"g":0.36,"r":0.277},
{"d":"2019-12-23","o":321.6,"h":323.0,"l":320.2,"c":322.9,"g":0.385,"r":0.321},
{"d":"2019-12-30","o":322.9,"h":323.9,"l":320.4,"c":322.4,"g":0.393,"r":0.361},
{"d":"2020-01-06","o":320.5,"h":326.0,"l":320.4,"c":325.7,"g":0.375,"r":0.382},
{"d":"2020-01-13","o":326.4,"h":332.2,"l":325.9,"c":332.0,"g":0.35,"r":0.379},
{"d":"2020-01-20","o":330.6,"h":332.9,"l":327.3,"c":328.8,"g":0.33,"r":0.362},
{"d":"2020-01-27","o":323.0,"h":329.0,"l":320.4,"c":321.7,"g":0.32,"r":0.343},
{"d":"2020-02-03","o":323.4,"h":333.0,"l":322.7,"c":332.2,"g":0.325,"r":0.329},
{"d":"2020-02-10","o":331.2,"h":338.1,"l":330.9,"c":337.6,"g":0.35,"r":0.328},
{"d":"2020-02-17","o":336.6,"h":339.1,"l":332.6,"c":333.5,"g":0.33,"r":0.333},
{"d":"2020-02-24","o":323.1,"h":324.7,"l":285.5,"c":296.3,"g":0.28,"r":0.328},
{"d":"2020-03-02","o":298.2,"h":313.8,"l":290.1,"c":297.5,"g":0.15,"r":0.287},
{"d":"2020-03-09","o":275.3,"h":288.4,"l":247.7,"c":269.3,"g":-0.01,"r":0.197},
{"d":"2020-03-16","o":241.2,"h":256.9,"l":228.0,"c":228.8,"g":-0.10,"r":0.077},
{"d":"2020-03-23","o":228.2,"h":263.3,"l":218.3,"c":253.4,"g":-0.117,"r":-0.031},
{"d":"2020-03-30","o":255.0,"h":263.2,"l":243.9,"c":248.2,"g":-0.105,"r":-0.092},
{"d":"2020-04-06","o":257.8,"h":281.2,"l":248.1,"c":278.2,"g":-0.07,"r":-0.102}
]},
"vconcat": [
  {
    "width": 2740,
    "height": 988,
    "title": {"text": "SPDR S&P 500 ETF TRUST, 1W, Cboe BZX", "fontSize": 30, "fontWeight": "bold", "offset": -81, "dx": 21, "baseline": "alphabetic"},
    "data": {"name": "w"},
    "encoding": {
      "x": {"field": "d", "type": "temporal", "title": null,
        "scale": {"type": "utc", "domain": [{"year": 2013, "month": 6, "date": 19, "hours": 12, "utc": true}, {"year": 2020, "month": 4, "date": 10, "utc": true}]},
        "axis": {"labels": false, "ticks": false, "domain": false, "grid": true, "title": null,
          "values": [{"year":2013,"month":7,"date":1,"utc":true},{"year":2014,"month":1,"date":6,"utc":true},{"year":2014,"month":7,"date":7,"utc":true},{"year":2015,"month":1,"date":5,"utc":true},{"year":2015,"month":7,"date":6,"utc":true},{"year":2016,"month":1,"date":4,"utc":true},{"year":2016,"month":7,"date":4,"utc":true},{"year":2017,"month":1,"date":2,"utc":true},{"year":2017,"month":7,"date":3,"utc":true},{"year":2018,"month":1,"date":1,"utc":true},{"year":2018,"month":7,"date":2,"utc":true},{"year":2019,"month":1,"date":7,"utc":true},{"year":2019,"month":7,"date":1,"utc":true},{"year":2020,"month":1,"date":6,"utc":true}]}}
    },
    "layer": [
      {
        "mark": {"type": "rule", "strokeWidth": 1.5},
        "encoding": {
          "y": {"field": "l", "type": "quantitative", "title": null,
            "scale": {"domain": [145.0, 349.5], "nice": false, "zero": false},
            "axis": {"orient": "right", "values": [160, 180, 200, 220, 240, 260, 280, 300, 320, 340], "format": ".2f", "title": null, "tickSize": 11, "labelPadding": 11, "grid": true}},
          "y2": {"field": "h"},
          "color": {"condition": {"test": "datum.c >= datum.o", "value": "#53b987"}, "value": "#eb4d5c"}
        }
      },
      {
        "mark": {"type": "bar", "width": 4.5, "strokeWidth": 1},
        "encoding": {
          "y": {"field": "o", "type": "quantitative", "title": null},
          "y2": {"field": "c"},
          "fill": {"condition": {"test": "datum.c >= datum.o", "value": "#53b987"}, "value": "#eb4d5c"},
          "stroke": {"condition": {"test": "datum.c >= datum.o", "value": "#53b987"}, "value": "#eb4d5c"}
        }
      }
    ]
  },
  {
    "width": 2740,
    "height": 314,
    "title": {"text": "RVGI (10, 0)", "fontSize": 29, "fontWeight": "normal", "offset": -76, "dx": 23, "baseline": "alphabetic"},
    "data": {"name": "w"},
    "encoding": {
      "x": {"field": "d", "type": "temporal", "title": null,
        "scale": {"type": "utc", "domain": [{"year": 2013, "month": 6, "date": 19, "hours": 12, "utc": true}, {"year": 2020, "month": 4, "date": 10, "utc": true}]},
        "axis": {"grid": true, "title": null, "domain": false, "tickSize": 10, "labelPadding": 13, "labelFlush": 20, "labelFlushOffset": 12, "labelOverlap": false,
          "labelExpr": "utcmonth(datum.value) == 0 ? utcFormat(datum.value, '%Y') : 'Jul'",
          "labelFontWeight": {"condition": {"test": "utcmonth(datum.value) == 0", "value": "bold"}, "value": "normal"},
          "values": [{"year":2013,"month":7,"date":1,"utc":true},{"year":2014,"month":1,"date":6,"utc":true},{"year":2014,"month":7,"date":7,"utc":true},{"year":2015,"month":1,"date":5,"utc":true},{"year":2015,"month":7,"date":6,"utc":true},{"year":2016,"month":1,"date":4,"utc":true},{"year":2016,"month":7,"date":4,"utc":true},{"year":2017,"month":1,"date":2,"utc":true},{"year":2017,"month":7,"date":3,"utc":true},{"year":2018,"month":1,"date":1,"utc":true},{"year":2018,"month":7,"date":2,"utc":true},{"year":2019,"month":1,"date":7,"utc":true},{"year":2019,"month":7,"date":1,"utc":true},{"year":2020,"month":1,"date":6,"utc":true}]}}
    },
    "layer": [
      {
        "mark": {"type": "line", "color": "#0a8a0a", "strokeWidth": 2},
        "encoding": {
          "y": {"field": "g", "type": "quantitative", "title": null,
            "scale": {"domain": [-0.362, 0.51], "nice": false, "zero": false},
            "axis": {"orient": "right", "values": [-0.2, 0, 0.2, 0.4], "format": ".4f", "title": null, "tickSize": 11, "labelPadding": 11, "grid": true}}
        }
      },
      {
        "mark": {"type": "line", "color": "#ff0000", "strokeWidth": 2},
        "encoding": {
          "y": {"field": "r", "type": "quantitative", "title": null}
        }
      }
    ]
  }
]
}
